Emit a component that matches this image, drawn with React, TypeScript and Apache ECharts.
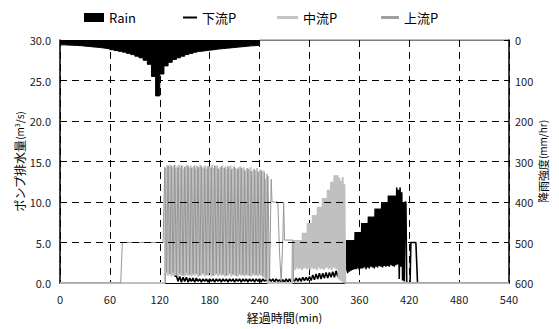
import React, { useEffect, useRef } from "react";
import * as echarts from "echarts";

const FONT = "'Noto Sans CJK JP', 'Noto Sans', sans-serif";

// Horizontal grid values of the discharge axis, drawn across the time range
const yGridValues = [5, 10, 15, 20, 25];
const timeMax = 540;

// Rain intensity (mm/hr), 5-min blocks, value holds from time to next time
const rainTime = [0, 5, 10, 15, 20, 25, 30, 35, 40, 45, 50, 55, 60, 65, 70, 75, 80, 85, 90, 95, 100, 105, 110, 115, 120, 125, 130, 135, 140, 145, 150, 155, 160, 165, 170, 175, 180, 185, 190, 195, 200, 205, 210, 215, 220, 225, 230, 235, 240, 540];
const rainIntensity = [12, 12.5, 13, 13.5, 14, 15, 16, 17, 18, 19, 20.5, 22, 24, 26, 28, 30, 33, 36, 40, 44, 50, 60, 90, 138, 84, 64, 55, 48, 44, 40, 36, 33, 30, 28, 26.5, 25, 24, 22.5, 21.5, 20.5, 19.5, 18.5, 17.5, 16.5, 15.5, 14.5, 14, 13, 0, 0];

// 下流P (downstream pump, m3/s)
const downHead: [number, number][] = [[0, 0], [126, 0], [127, 1.6], [129, 1.8], [132, 1.5], [136, 1.2], [139, 0.8]];
const downLowStart = 140; // every 2 min
const downLow = [
  0.9, 0.2, 0.8, 0.1, 0.7, 0.2, 0.7, 0.1, 0.6, 0.2,
  0.6, 0.1, 0.6, 0.2, 0.5, 0.1, 0.5, 0.2, 0.5, 0.1,
  0.5, 0.2, 0.5, 0.1, 0.5, 0.2, 0.5, 0.1, 0.5, 0.2,
  0.5, 0.1, 0.5, 0.2, 0.5, 0.1, 0.5, 0.2, 0.5, 0.1,
  0.5, 0.2, 0.5, 0.1, 0.5, 0.2, 0.5, 0.1, 0.5, 0.2,
  0.5, 0.1, 0.5, 0.2, 0.5, 0.1, 0.5, 0.2, 0.5, 0.1,
  0.5, 0.2, 0.4, 0.1, 0.4, 0.1, 0.5, 0.1, 0.5, 0.1,
  0.5, 0.2, 0.6, 0.2, 0.6, 0.2, 0.7, 0.3, 0.7, 0.3,
  0.8, 0.3, 1.0, 0.4, 1.1, 0.5, 1.2, 0.5, 1.2, 0.6,
  1.3, 0.6, 1.3, 0.7, 1.4, 0.7, 1.5, 0.8, 1.6, 0.8,
  1.6, 0.9, 1.7,
];
const downStairStart = 345; // every 1 min
const downStair = [
  5.3, 1.2, 5.3, 1.4, 5.3, 1.5, 5.3, 1.6, 5.3, 1.7,
  6.3, 1.7, 6.3, 1.8, 6.3, 1.6, 6.3, 1.8,
  7.4, 1.8, 7.4, 1.9, 7.4, 1.7, 7.4,
  1.9, 8.2, 1.8, 8.2, 2.0, 8.2, 1.9, 8.2, 1.8,
  9.2, 2.0, 9.2, 1.9, 9.2, 2.1, 9.2, 2.0,
  10.0, 1.9, 10.0, 2.1, 10.0, 2.0, 10.0,
  2.1, 10.8, 2.0, 10.8, 2.2, 10.8, 2.1, 10.8, 2.0, 10.8, 2.2,
  11.8, 2.3, 11.5, 0.5, 11.8, 2.0, 11.2, 0.3,
];
const downTail: [number, number][] = [[413, 10], [414, 0.2], [415, 10], [416, 10], [417, 0], [421, 0], [422, 5], [428, 5], [430, 0], [540, 0]];

// 中流P (midstream pump)
const midHead: [number, number][] = [[0, 0], [126, 0]];
const midClusterStart = 127; // every 1 min
const midCluster = [
  14.2, 1.2, 14.5, 0.9, 14.4, 1.1, 14.6, 0.8, 14.3, 1.0,
  14.5, 0.9, 14.2, 1.1, 14.4, 0.8, 14.6, 1.0, 14.3, 0.9,
  14.5, 1.2, 14.1, 0.8, 14.4, 1.0, 14.6, 0.9, 14.2, 1.1,
  14.5, 0.8, 14.3, 1.0, 14.4, 0.9, 14.1, 1.2, 14.5, 0.8,
  14.3, 1.0, 14.6, 0.9, 14.2, 1.1, 14.4, 0.8, 14.5, 1.0,
  14.1, 0.9, 14.4, 1.2, 14.3, 0.8, 14.6, 1.0, 14.2, 0.9,
  14.4, 1.1, 14.5, 0.8, 14.1, 1.0, 14.3, 0.9, 14.5, 1.2,
  14.2, 0.8, 14.4, 1.0, 14.0, 0.9, 14.3, 1.1, 14.5, 0.8,
  14.1, 1.0, 14.4, 0.9, 14.2, 1.2, 14.0, 0.8, 14.3, 1.0,
  14.4, 0.9, 14.1, 1.1, 14.3, 0.8, 13.9, 1.0, 14.2, 0.9,
  14.0, 1.2, 14.3, 0.8, 13.8, 1.0, 14.1, 0.9, 13.9, 1.1,
  14.2, 0.8, 13.8, 1.0, 14.0, 0.9, 13.7, 1.2, 13.9, 0.6,
  12.8, 0.4, 13.5, 0,
];
const midGap: [number, number][] = [[251, 0], [279, 0]];
const midStairStart = 280; // every 1 min
const midStair = [
  5.3, 1.8, 5.3, 1.6, 5.3, 1.9, 5.3, 1.7, 5.3, 1.8, 5.3, 1.6,
  6.2, 1.8, 6.2, 1.9, 6.2, 1.7,
  7.4, 1.8, 7.4, 1.6, 7.4, 1.9,
  8.4, 1.7, 8.4, 1.8, 8.4, 1.6,
  9.4, 1.9, 9.4, 1.7, 9.4, 1.8,
  10.5, 1.6, 10.5, 1.8, 10.5, 1.9,
  11.5, 1.7, 11.5, 1.8,
  12.5, 1.6, 12.5, 1.9,
  13.3, 1.8, 13.3, 1.7, 13.3,
  0.5, 13.0, 0.3, 12.6, 0.2, 13.1, 0, 12.2, 0, 0,
];
const midTail: [number, number][] = [[345, 0], [540, 0]];

// 上流P (upstream pump)
const upHead: [number, number][] = [[0, 0], [73, 0], [75, 5], [124, 5]];
const upClusterStart = 126; // every 2 min
const upCluster = [
  14.3, 1.4, 14.5, 1.1, 14.4, 1.3, 14.6, 1.0, 14.2, 1.2,
  14.5, 0.9, 14.3, 1.3, 14.4, 1.0, 14.2, 1.2, 14.5, 1.1,
  14.3, 0.9, 14.4, 1.2, 14.1, 1.0, 14.4, 1.3, 14.2, 0.9,
  14.5, 1.1, 14.1, 1.2, 14.3, 1.0, 14.2, 0.9, 14.4, 1.2,
  14.0, 1.1, 14.3, 0.9, 14.1, 1.2, 14.2, 1.0, 13.9, 1.1,
  14.1, 0.9, 13.8, 1.2, 14.0, 1.0, 13.7, 1.1, 13.9, 0.8,
  13.6, 0.6, 13.2,
];
const upTail: [number, number][] = [[252, 0.5], [254, 12.8], [255, 10], [262, 10], [264, 3.8], [266, 0.2], [268, 5.3], [269, 10], [270, 5.3], [280, 5.3], [281, 0.3], [282, 0], [540, 0]];

const seg = (start: number, step: number, vals: number[]): [number, number][] =>
  vals.map((v, i) => [start + i * step, v]);

export default function App() {
  const ref = useRef<HTMLDivElement>(null);
  useEffect(() => {
    if (!ref.current) return;
    const chart = echarts.init(ref.current, null, { renderer: "svg" });
    const rainData = rainTime.map((t, i) => [t, rainIntensity[i]]);
    const downData = [...downHead, ...seg(downLowStart, 2, downLow), ...seg(downStairStart, 1, downStair), ...downTail];
    const midData = [...midHead, ...seg(midClusterStart, 1, midCluster), ...midGap, ...seg(midStairStart, 1, midStair), ...midTail];
    const upData = [...upHead, ...seg(upClusterStart, 2, upCluster), ...upTail];

    const legendCommon = {
      selectedMode: false,
      top: 11,
      padding: 0,
      textStyle: { fontSize: 13, color: "#000", fontFamily: FONT },
    };

    // dashed horizontal grid drawn as small filled rectangles through the axis scales
    const gridRenderItem = (_params: any, api: any) => {
      const v = api.value(1);
      const a = api.coord([0, v]);
      const b = api.coord([timeMax, v]);
      const y = Math.round(a[1] - 0.5);
      const children: any[] = [];
      for (let x = a[0]; x < b[0]; x += 12) {
        children.push({
          type: "rect",
          shape: { x, y, width: Math.min(7, b[0] - x), height: 1 },
          style: { fill: "#000" },
        });
      }
      return { type: "group", children };
    };

    chart.setOption({
      animation: false,
      backgroundColor: "#fff",
      textStyle: { fontFamily: FONT },
      grid: { left: 60, right: 50, top: 40, bottom: 46 },
      legend: [
        { ...legendCommon, left: 84, itemWidth: 20, itemHeight: 9, data: [{ name: "Rain", icon: "rect", itemStyle: { color: "#000" } }] },
        { ...legendCommon, left: 183, itemWidth: 14, itemHeight: 2, data: [{ name: "下流P", icon: "rect", itemStyle: { color: "#000" } }] },
        { ...legendCommon, left: 277, itemWidth: 21, itemHeight: 3, data: [{ name: "中流P", icon: "rect", itemStyle: { color: "#c4c4c4" } }] },
        { ...legendCommon, left: 381, itemWidth: 18, itemHeight: 3, data: [{ name: "上流P", icon: "rect", itemStyle: { color: "#a0a0a0" } }] },
      ],
      xAxis: {
        type: "value",
        min: 0,
        max: 540,
        interval: 60,
        name: "{a|経過時間}{b|(min)}",
        nameLocation: "middle",
        nameGap: 28,
        nameMoveOverlap: false,
        nameTextStyle: {
          rich: {
            a: { fontSize: 12, color: "#000", fontFamily: FONT },
            b: { fontSize: 11, color: "#000", fontFamily: FONT },
          },
        },
        axisLine: { show: true, lineStyle: { color: "#000", width: 1 } },
        axisTick: { show: true, inside: true, length: 0 },
        axisLabel: { fontSize: 11, color: "#222", margin: 10, fontFamily: FONT },
        splitLine: { show: true, lineStyle: { color: "#000", width: 1, type: [7, 5] } },
      },
      yAxis: [
        {
          type: "value",
          min: 0,
          max: 30,
          interval: 5,
          position: "left",
          name: "{a|ポンプ排水量}{b|(m}{c|3}{b|/s)}",
          nameLocation: "middle",
          nameGap: 35,
          nameMoveOverlap: false,
          nameRotate: 90,
          nameTextStyle: {
            rich: {
              a: { fontSize: 12, color: "#000", fontFamily: FONT },
              b: { fontSize: 10, color: "#000", fontFamily: FONT },
              c: { fontSize: 7, color: "#000", fontFamily: FONT, verticalAlign: "top" },
            },
          },
          axisLine: { show: true, lineStyle: { color: "#000", width: 1.5 } },
          axisTick: { show: true, inside: true, length: 5, lineStyle: { color: "#000" } },
          axisLabel: { fontSize: 11, color: "#222", margin: 9, fontFamily: FONT, formatter: (v: number) => v.toFixed(1) },
          splitLine: { show: false },
        },
        {
          type: "value",
          min: 0,
          max: 600,
          interval: 100,
          inverse: true,
          position: "right",
          name: "{a|降雨強度}{b|(mm/hr)}",
          nameLocation: "middle",
          nameGap: 28,
          nameMoveOverlap: false,
          nameRotate: 90,
          nameTextStyle: {
            rich: {
              a: { fontSize: 11, color: "#000", fontFamily: FONT },
              b: { fontSize: 10, color: "#000", fontFamily: FONT },
            },
          },
          axisLine: { show: true, lineStyle: { color: "#000", width: 1.5 } },
          axisTick: { show: true, inside: true, length: 5, lineStyle: { color: "#000" } },
          axisLabel: { fontSize: 11, color: "#222", margin: 6, fontFamily: FONT },
          splitLine: { show: false },
        },
      ],
      series: [
        {
          name: "Rain",
          type: "line",
          yAxisIndex: 1,
          step: "end",
          symbol: "none",
          silent: true,
          data: rainData,
          color: "#000",
          itemStyle: { color: "#000" },
          lineStyle: { color: "#000", width: 1 },
          areaStyle: { color: "#000", opacity: 1 },
        },
        {
          name: "下流P",
          type: "line",
          yAxisIndex: 0,
          symbol: "none",
          silent: true,
          data: downData,
          color: "#000",
          itemStyle: { color: "#000" },
          lineStyle: { color: "#000", width: 1.6 },
        },
        {
          name: "中流P",
          type: "line",
          yAxisIndex: 0,
          symbol: "none",
          silent: true,
          data: midData,
          color: "#c0c0c0",
          itemStyle: { color: "#c0c0c0" },
          lineStyle: { color: "#c0c0c0", width: 2 },
        },
        {
          name: "上流P",
          type: "line",
          yAxisIndex: 0,
          symbol: "none",
          silent: true,
          data: upData,
          color: "#969696",
          itemStyle: { color: "#969696" },
          lineStyle: { color: "#969696", width: 1 },
        },
        {
          name: "ygrid",
          type: "custom",
          yAxisIndex: 0,
          silent: true,
          z: 5,
          renderItem: gridRenderItem,
          data: yGridValues.map((v) => [0, v]),
        },
      ],
    });
    return () => chart.dispose();
  }, []);
  return <div ref={ref} style={{ position: "fixed", left: 0, top: 0, width: 559, height: 329 }} />;
}
